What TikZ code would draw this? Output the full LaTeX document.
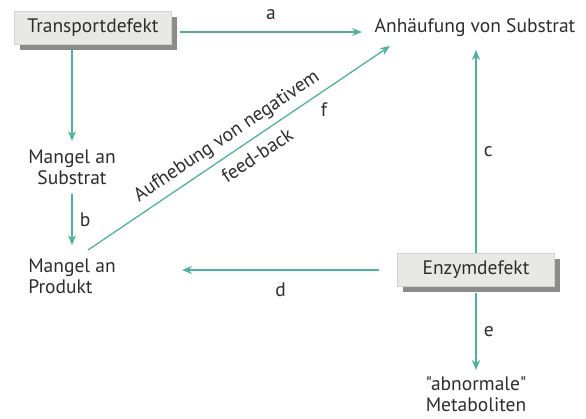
\documentclass[tikz,border=0pt]{standalone}
\usepackage{fontspec}
\setmainfont{PT Sans}[Ligatures=TeXOff]
\usetikzlibrary{arrows.meta}
\definecolor{pfeil}{RGB}{78,178,158}
\definecolor{kasten}{RGB}{232,232,230}
\definecolor{schatten}{RGB}{140,140,140}
\definecolor{schrift}{RGB}{45,45,45}

\begin{document}
\begin{tikzpicture}[x=1pt,y=-1pt,>={Stealth[length=10pt,width=8pt]},
  font=\fontsize{19.5}{21}\selectfont,text=schrift,
  defekt/.style={fill=kasten,draw=kasten!80!gray,line width=.4pt,minimum width=157pt,minimum height=33pt,
    preaction={fill=schatten,transform canvas={xshift=5pt,yshift=-5pt}}},
  pfeilzug/.style={draw=pfeil,line width=1.3pt}]
  \useasboundingbox (0,0) rectangle (586,418);
  \node[defekt] (T) at (93,28) {Transportdefekt};
  \node (A) at (475,28) {Anhäufung von Substrat};
  \node[align=center] (MS) at (72,167) {Mangel an\\Substrat};
  \node[align=left] (MP) at (72,276) {Mangel an\\Produkt};
  \node[defekt] (E) at (476,270) {Enzymdefekt};
  \node[align=center] (M) at (476,394) {"abnormale"\\Metaboliten};
  \coordinate (Ta) at (180,32);
  \coordinate (Aa) at (362,32);
  \coordinate (Pf) at (88,250);
  \coordinate (Af) at (390,46);
  \coordinate (Ac) at (476,50);
  \draw[pfeilzug,->] (Ta) -- (Aa) node[midway,above=8pt] {a};
  \draw[pfeilzug,->] (T.south -| MS) ++(0,4) -- (72,141);
  \draw[pfeilzug,->] (72,194) -- (72,245) node[midway,right=4pt] {b};
  \draw[pfeilzug,->] (Pf) -- (Af)
    node[pos=.49,sloped,above=3pt] {Aufhebung von negativem}
    node[pos=.53,sloped,below=5pt] {feed-back};
  \node (f) at (324,110) {f};
  \draw[pfeilzug,->] (E.north) -- (Ac) node[midway,right=4pt] {c};
  \draw[pfeilzug,->] (E.west) ++(-18,0) coordinate (Ed) -- (182,270) coordinate (Pd) node[midway,below=9pt] {d};
  \draw[pfeilzug,->] (E.south) ++(0,6) -- (476,370) node[midway,right=4pt] {e};
\end{tikzpicture}
\end{document}
